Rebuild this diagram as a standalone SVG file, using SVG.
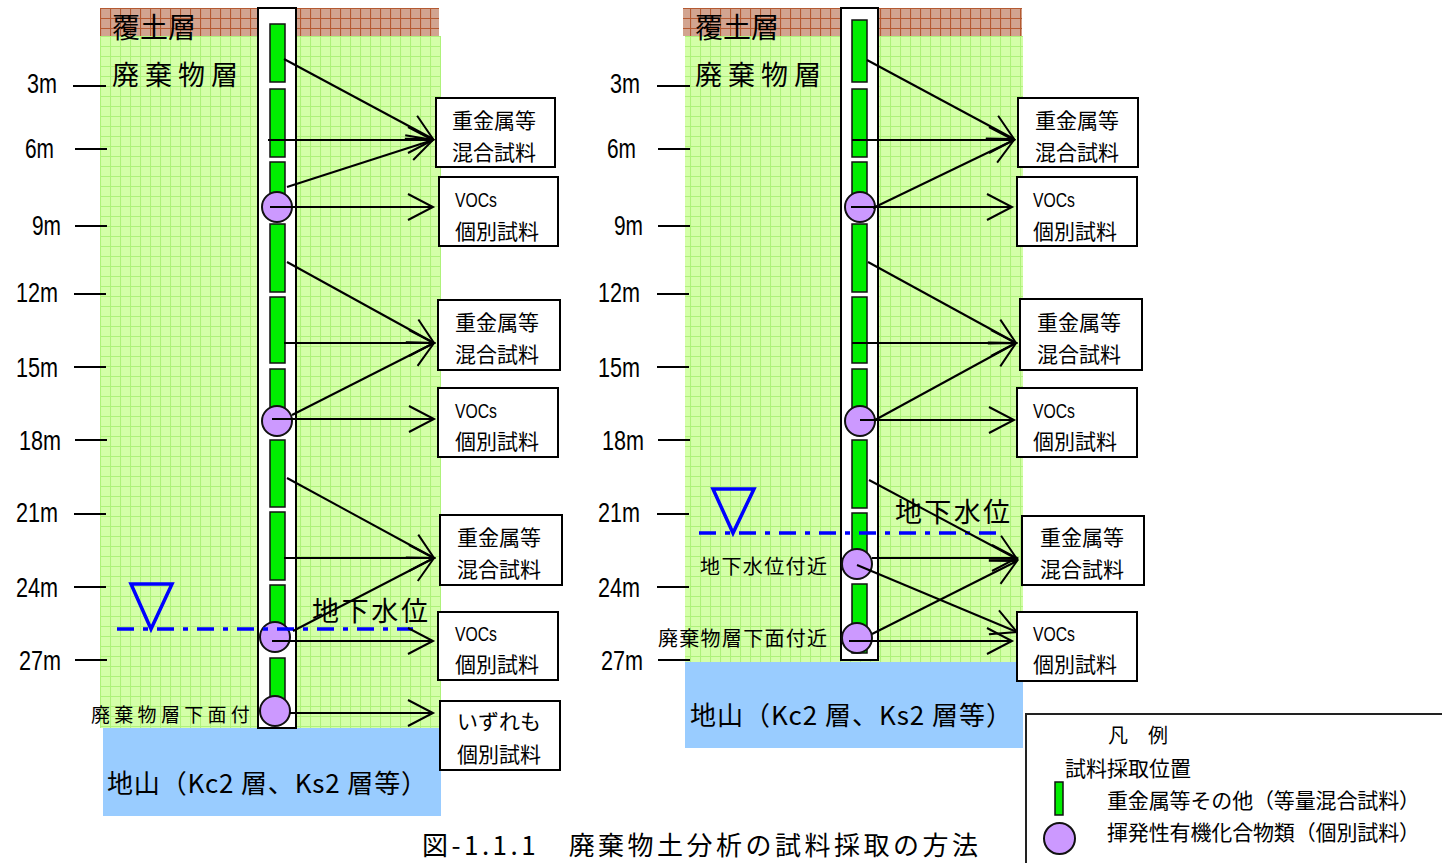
<svg xmlns="http://www.w3.org/2000/svg" width="1442" height="863" viewBox="0 0 1442 863">
<defs>
<pattern id="pg" patternUnits="userSpaceOnUse" width="10" height="10" x="0" y="6">
<rect width="10" height="10" fill="#d4ffa8"/>
<path d="M0,0.5 H10 M0.5,0 V10" stroke="#aef27a" stroke-width="1.1" fill="none"/>
</pattern>
<pattern id="pb" patternUnits="userSpaceOnUse" width="10" height="10" x="0" y="8">
<rect width="10" height="10" fill="#d2a490"/>
<path d="M0,0.5 H10 M0.5,0 V10" stroke="#b45a32" stroke-width="1.2" fill="none"/>
</pattern>
<marker id="ah" markerUnits="userSpaceOnUse" markerWidth="32" markerHeight="32" viewBox="-28 -16 32 32" refX="0" refY="0" orient="auto" overflow="visible">
<path d="M-25,-13 L0,0 L-25,13" fill="none" stroke="#000" stroke-width="2"/>
</marker>
</defs>
<style>
.jp{font-family:"Noto Sans CJK JP","Noto Sans CJK SC",sans-serif;fill:#000}
.num{font-family:"Liberation Sans",Arial,sans-serif;fill:#000}
.box{fill:#fff;stroke:#000;stroke-width:2}
.pipe{fill:#fff;stroke:#000;stroke-width:2}
.seg{fill:#00ee00;stroke:#111;stroke-width:1.5}
.voc{fill:#cc99ff;stroke:#111;stroke-width:2}
.tick{stroke:#000;stroke-width:2}
.gw{stroke:#0000ff;stroke-width:3.5;stroke-dasharray:17 9 5 9;fill:none}
.tri{fill:none;stroke:#0000ff;stroke-width:3.5}
.con{stroke:#000;stroke-width:2;fill:none;marker-end:url(#ah)}
.t21{font-size:21px}
.voct{font-size:21px}
</style>
<rect width="1442" height="863" fill="#fff"/>

<g id="left-strata">
<rect x="100" y="8" width="339" height="28" fill="url(#pb)"/>
<rect x="100" y="36" width="341" height="692" fill="url(#pg)"/>
<rect x="103" y="728" width="338" height="88" fill="#99ccff"/>
<text class="jp" x="112" y="38" font-size="28">覆土層</text>
<text class="jp" x="112" y="85" font-size="27" letter-spacing="6">廃棄物層</text>
<text class="jp" x="91" y="722" font-size="19" letter-spacing="4.3">廃棄物層下面付</text>
<text class="jp" x="107" y="793" font-size="26" textLength="320">地山（Kc2 層、Ks2 層等）</text>
</g>

<g id="right-strata">
<rect x="683" y="8" width="339" height="28" fill="url(#pb)"/>
<rect x="685" y="36" width="338" height="626" fill="url(#pg)"/>
<rect x="685" y="662" width="338" height="86" fill="#99ccff"/>
<text class="jp" x="695" y="38" font-size="28">覆土層</text>
<text class="jp" x="695" y="85" font-size="27" letter-spacing="6">廃棄物層</text>
<text class="jp" x="700" y="574" font-size="20" textLength="127">地下水位付近</text>
<text class="jp" x="658" y="646" font-size="20" textLength="169">廃棄物層下面付近</text>
<text class="jp" x="690" y="725" font-size="26" textLength="322">地山（Kc2 層、Ks2 層等）</text>
</g>

<g id="left-depth">
<path class="tick" d="M73,86 H106 M75,149 H107 M75,226 H107 M74,294 H106 M74,367 H106 M75,440 H107 M74,514 H106 M74,587 H106 M75,660 H107"/>
<text class="num" x="27" y="93" font-size="27" textLength="30" lengthAdjust="spacingAndGlyphs">3m</text>
<text class="num" x="25" y="158" font-size="27" textLength="29" lengthAdjust="spacingAndGlyphs">6m</text>
<text class="num" x="32" y="235" font-size="27" textLength="29" lengthAdjust="spacingAndGlyphs">9m</text>
<text class="num" x="16" y="302" font-size="27" textLength="42" lengthAdjust="spacingAndGlyphs">12m</text>
<text class="num" x="16" y="377" font-size="27" textLength="42" lengthAdjust="spacingAndGlyphs">15m</text>
<text class="num" x="19" y="450" font-size="27" textLength="42" lengthAdjust="spacingAndGlyphs">18m</text>
<text class="num" x="16" y="522" font-size="27" textLength="42" lengthAdjust="spacingAndGlyphs">21m</text>
<text class="num" x="16" y="597" font-size="27" textLength="42" lengthAdjust="spacingAndGlyphs">24m</text>
<text class="num" x="19" y="670" font-size="27" textLength="42" lengthAdjust="spacingAndGlyphs">27m</text>
</g>

<g id="right-depth">
<path class="tick" d="M657,86 H690 M658,149 H690 M658,226 H690 M657,294 H689 M657,367 H689 M658,440 H690 M657,514 H689 M657,587 H689 M658,660 H690"/>
<text class="num" x="610" y="93" font-size="27" textLength="30" lengthAdjust="spacingAndGlyphs">3m</text>
<text class="num" x="607" y="158" font-size="27" textLength="29" lengthAdjust="spacingAndGlyphs">6m</text>
<text class="num" x="614" y="235" font-size="27" textLength="29" lengthAdjust="spacingAndGlyphs">9m</text>
<text class="num" x="598" y="302" font-size="27" textLength="42" lengthAdjust="spacingAndGlyphs">12m</text>
<text class="num" x="598" y="377" font-size="27" textLength="42" lengthAdjust="spacingAndGlyphs">15m</text>
<text class="num" x="602" y="450" font-size="27" textLength="42" lengthAdjust="spacingAndGlyphs">18m</text>
<text class="num" x="598" y="522" font-size="27" textLength="42" lengthAdjust="spacingAndGlyphs">21m</text>
<text class="num" x="598" y="597" font-size="27" textLength="42" lengthAdjust="spacingAndGlyphs">24m</text>
<text class="num" x="601" y="670" font-size="27" textLength="42" lengthAdjust="spacingAndGlyphs">27m</text>
</g>

<g id="left-borehole">
<rect class="pipe" x="258" y="8" width="38" height="720"/>
<rect class="seg" x="270" y="24" width="15" height="58"/>
<rect class="seg" x="270" y="89" width="15" height="68"/>
<rect class="seg" x="270" y="162" width="15" height="56"/>
<rect class="seg" x="270" y="224" width="15" height="68"/>
<rect class="seg" x="270" y="297" width="15" height="66"/>
<rect class="seg" x="270" y="369" width="15" height="46"/>
<rect class="seg" x="270" y="440" width="15" height="67"/>
<rect class="seg" x="270" y="512" width="15" height="68"/>
<rect class="seg" x="270" y="585" width="15" height="46"/>
<rect class="seg" x="270" y="658" width="15" height="46"/>
<circle class="voc" cx="277" cy="207" r="15"/>
<circle class="voc" cx="277" cy="421" r="15"/>
<circle class="voc" cx="275" cy="637" r="15"/>
<circle class="voc" cx="275" cy="711" r="15"/>
</g>

<g id="right-borehole">
<rect class="pipe" x="841" y="8" width="37" height="652"/>
<rect class="seg" x="852" y="20" width="15" height="62"/>
<rect class="seg" x="852" y="89" width="15" height="68"/>
<rect class="seg" x="852" y="162" width="15" height="56"/>
<rect class="seg" x="852" y="224" width="15" height="68"/>
<rect class="seg" x="852" y="297" width="15" height="66"/>
<rect class="seg" x="852" y="369" width="15" height="46"/>
<rect class="seg" x="852" y="440" width="15" height="68"/>
<rect class="seg" x="852" y="513" width="15" height="46"/>
<rect class="seg" x="852" y="584" width="15" height="69"/>
<circle class="voc" cx="860" cy="207" r="15"/>
<circle class="voc" cx="860" cy="421" r="15"/>
<circle class="voc" cx="857" cy="564" r="15"/>
<circle class="voc" cx="857" cy="638" r="15"/>
</g>

<g id="left-groundwater">
<path class="gw" d="M117,629 H413"/>
<path class="tri" d="M131,584 H172 L151,629 Z"/>
<text class="jp" x="312" y="621" font-size="27" textLength="116">地下水位</text>
</g>

<g id="right-groundwater">
<path class="gw" d="M699,533 H996"/>
<path class="tri" d="M713,489 H754 L733,533 Z"/>
<text class="jp" x="895" y="522" font-size="27" textLength="115">地下水位</text>
</g>

<g id="connectors">
<path class="con" d="M284,59 L433,139"/>
<path class="con" d="M268,140 L433,140"/>
<path class="con" d="M287,187 L433,140"/>
<path class="con" d="M270,207 L433,207"/>
<path class="con" d="M287,262 L434,343"/>
<path class="con" d="M284,343 L434,343"/>
<path class="con" d="M292,415 L434,343"/>
<path class="con" d="M272,419 L434,419"/>
<path class="con" d="M287,478 L434,558"/>
<path class="con" d="M284,558 L434,558"/>
<path class="con" d="M293,631 L434,558"/>
<path class="con" d="M272,641 L433,641"/>
<path class="con" d="M290,713 L433,713"/>
<path class="con" d="M867,60 L1014,139"/>
<path class="con" d="M852,140 L1014,140"/>
<path class="con" d="M873,208 L1014,140"/>
<path class="con" d="M851,207 L1012,207"/>
<path class="con" d="M868,262 L1016,343"/>
<path class="con" d="M852,343 L1016,343"/>
<path class="con" d="M875,420 L1016,343"/>
<path class="con" d="M860,420 L1014,420"/>
<path class="con" d="M869,480 L1017,559"/>
<path class="con" d="M872,558 L1017,558"/>
<path class="con" d="M872,634 L1017,561"/>
<path class="con" d="M857,565 L1017,632"/>
<path class="con" d="M849,641 L1012,641"/>
</g>

<g id="lbox1"><rect class="box" x="436" y="98" width="119" height="69"/><text class="jp t21" x="452" y="128">重金属等</text><text class="jp t21" x="452" y="160">混合試料</text></g>
<g id="lbox2"><rect class="box" x="439" y="177" width="119" height="69"/><text class="num voct" x="455" y="207" textLength="42" lengthAdjust="spacingAndGlyphs">VOCs</text><text class="jp t21" x="455" y="239">個別試料</text></g>
<g id="lbox3"><rect class="box" x="438" y="300" width="122" height="70"/><text class="jp t21" x="455" y="330">重金属等</text><text class="jp t21" x="455" y="362">混合試料</text></g>
<g id="lbox4"><rect class="box" x="438" y="388" width="120" height="69"/><text class="num voct" x="455" y="418" textLength="42" lengthAdjust="spacingAndGlyphs">VOCs</text><text class="jp t21" x="455" y="449">個別試料</text></g>
<g id="lbox5"><rect class="box" x="440" y="515" width="122" height="70"/><text class="jp t21" x="457" y="545">重金属等</text><text class="jp t21" x="457" y="577">混合試料</text></g>
<g id="lbox6"><rect class="box" x="438" y="612" width="120" height="68"/><text class="num voct" x="455" y="641" textLength="42" lengthAdjust="spacingAndGlyphs">VOCs</text><text class="jp t21" x="455" y="672">個別試料</text></g>
<g id="lbox7"><rect class="box" x="440" y="701" width="120" height="69"/><text class="jp t21" x="457" y="729">いずれも</text><text class="jp t21" x="457" y="762">個別試料</text></g>

<g id="rbox1"><rect class="box" x="1018" y="98" width="120" height="69"/><text class="jp t21" x="1035" y="128">重金属等</text><text class="jp t21" x="1035" y="160">混合試料</text></g>
<g id="rbox2"><rect class="box" x="1017" y="177" width="120" height="69"/><text class="num voct" x="1033" y="207" textLength="42" lengthAdjust="spacingAndGlyphs">VOCs</text><text class="jp t21" x="1033" y="239">個別試料</text></g>
<g id="rbox3"><rect class="box" x="1020" y="299" width="122" height="71"/><text class="jp t21" x="1037" y="330">重金属等</text><text class="jp t21" x="1037" y="362">混合試料</text></g>
<g id="rbox4"><rect class="box" x="1017" y="388" width="120" height="69"/><text class="num voct" x="1033" y="418" textLength="42" lengthAdjust="spacingAndGlyphs">VOCs</text><text class="jp t21" x="1033" y="449">個別試料</text></g>
<g id="rbox5"><rect class="box" x="1022" y="516" width="122" height="69"/><text class="jp t21" x="1040" y="545">重金属等</text><text class="jp t21" x="1040" y="577">混合試料</text></g>
<g id="rbox6"><rect class="box" x="1017" y="612" width="120" height="69"/><text class="num voct" x="1033" y="641" textLength="42" lengthAdjust="spacingAndGlyphs">VOCs</text><text class="jp t21" x="1033" y="672">個別試料</text></g>

<g id="legend">
<path d="M1026,863 V714 H1442" fill="none" stroke="#222" stroke-width="2"/>
<text class="jp" x="1108" y="743" font-size="20">凡　例</text>
<text class="jp t21" x="1065" y="776">試料採取位置</text>
<rect class="seg" x="1055" y="782" width="8" height="33"/>
<text class="jp t21" x="1107" y="808" textLength="313">重金属等その他（等量混合試料）</text>
<circle class="voc" cx="1059.5" cy="838.5" r="15.5"/>
<text class="jp t21" x="1107" y="840" textLength="313">揮発性有機化合物類（個別試料）</text>
</g>

<g id="caption">
<text class="jp" x="422" y="855" font-size="26" textLength="556">図-1.1.1　廃棄物土分析の試料採取の方法</text>
</g>
</svg>
